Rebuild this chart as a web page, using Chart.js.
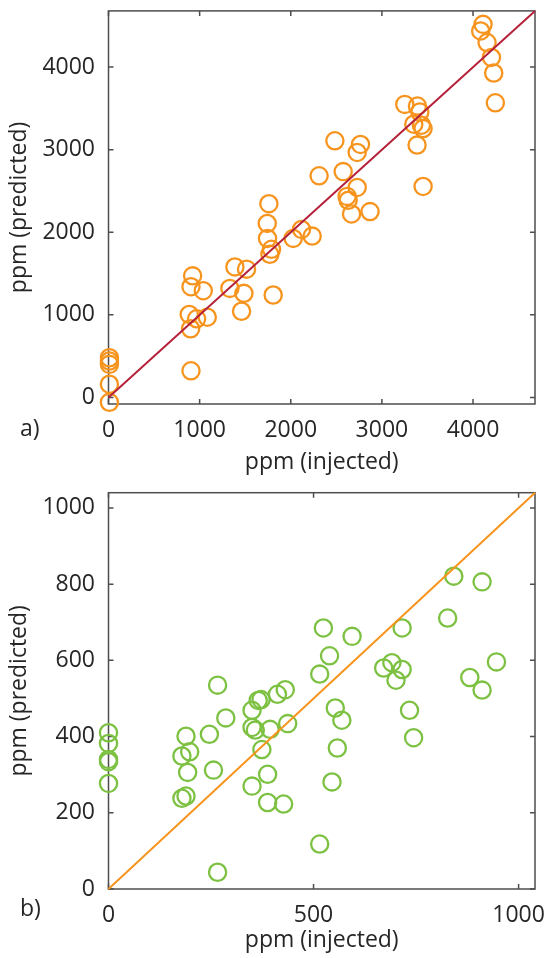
<!DOCTYPE html>
<html lang="en">
<head>
    <meta charset="UTF-8">
    <title>ppm predicted vs injected</title>
    <script src="https://cdn.jsdelivr.net/npm/chart.js"></script>
    <style>
        * { margin: 0; padding: 0; box-sizing: border-box; }
        body { width: 546px; height: 958px; background: #fff; position: relative; overflow: hidden; }
        .panel { position: absolute; left: 0; width: 546px; }
        #wrapA { top: 0; height: 480px; }
        #wrapB { top: 480px; height: 478px; }
        .tag { position: absolute; font-family: 'Open Sans', sans-serif; font-size: 23px; color: #262626; line-height: 1; }
        #tagA { left: 20px; top: 416px; }
        #tagB { left: 20px; top: 896px; }
    </style>
</head>
<body>
<div class="panel" id="wrapA"><canvas id="chartA"></canvas></div>
<div class="panel" id="wrapB"><canvas id="chartB"></canvas></div>
<div class="tag" id="tagA">a)</div>
<div class="tag" id="tagB">b)</div>

<script>
    // panel a) : ppm injected / predicted
    const injectedA = [10, 10, 10, 10, 10, 905, 901, 886, 967, 1084, 905, 923, 1040,
        1332, 1387, 1515, 1486, 1460, 1807, 1771, 1789, 1745, 1742, 1760,
        2027, 2118, 2235, 2311, 2484, 2575, 2618, 2630, 2667, 2729, 2729, 2765, 2870,
        3251, 3390, 3416, 3350, 3434, 3452, 3386, 3452,
        4110, 4084, 4154, 4202, 4227, 4245];
    const predictedA = [480, 440, 400, 160, -60, 322, 831, 1004, 952, 971, 1340, 1472, 1292,
        1320, 1580, 1553, 1260, 1043, 1240, 1733, 1793, 1925, 2106, 2346,
        1925, 2034, 1953, 2683, 3107, 2734, 2434, 2386, 2221, 2542, 2966, 3063, 2250,
        3548, 3528, 3456, 3308, 3296, 3255, 3055, 2554,
        4517, 4437, 4297, 4117, 3928, 3567];
    const ticksA = [0, 1000, 2000, 3000, 4000];

    // panel b)
    const injectedB = [0, 0, 0, 0, 0, 189, 179, 198, 193, 179, 189,
        246, 256, 286, 266, 266, 350, 365, 372, 412, 431,
        350, 358, 394, 437, 374, 388, 350, 388, 427,
        515, 545, 558, 569, 553, 515, 539, 524, 594,
        671, 691, 716, 701, 716, 734, 744,
        827, 842, 911, 881, 911, 946];
    const predictedB = [410, 382, 340, 334, 277, 401, 349, 360, 306, 238, 244,
        406, 312, 449, 535, 44, 469, 495, 497, 511, 523,
        424, 417, 419, 434, 366, 301, 270, 227, 223,
        118, 281, 370, 443, 475, 564, 612, 685, 663,
        580, 594, 576, 548, 685, 469, 397,
        711, 821, 806, 555, 522, 596];
    const ticksBx = [0, 500, 1000];
    const ticksBy = [0, 200, 400, 600, 800, 1000];

    const font = { family: "'Open Sans', sans-serif", size: 23 };
    const textColor = '#262626';
    const axisColor = '#4d4d4d';

    // box round the plot area with ticks pointing inward (both sides)
    const boxTicks = {
        id: 'boxTicks',
        beforeDatasetsDraw(chart) {
            const { ctx, chartArea: a, scales: { x, y } } = chart;
            ctx.save();
            ctx.strokeStyle = axisColor;
            ctx.lineWidth = 1.5;
            ctx.strokeRect(a.left, a.top, a.right - a.left, a.bottom - a.top);
            ctx.beginPath();
            x.ticks.forEach(t => {
                const px = x.getPixelForValue(t.value);
                ctx.moveTo(px, a.bottom); ctx.lineTo(px, a.bottom - 5);
                ctx.moveTo(px, a.top); ctx.lineTo(px, a.top + 5);
            });
            y.ticks.forEach(t => {
                const py = y.getPixelForValue(t.value);
                ctx.moveTo(a.left, py); ctx.lineTo(a.left + 5, py);
                ctx.moveTo(a.right, py); ctx.lineTo(a.right - 5, py);
            });
            ctx.stroke();
            ctx.restore();
        }
    };

    function makeChart(id, xs, ys, xTicks, yTicks, lim, dotColor, lineColor, cfg) {
        const pts = xs.map((v, i) => ({ x: v, y: ys[i] }));
        return new Chart(document.getElementById(id), {
            data: {
                datasets: [
                    {
                        type: 'line',
                        data: [{ x: 0, y: 0 }, { x: lim.xmax, y: lim.ymax }],
                        borderColor: lineColor,
                        borderWidth: 2,
                        pointRadius: 0,
                        clip: false
                    },
                    {
                        type: 'scatter',
                        data: pts,
                        pointStyle: 'circle',
                        pointRadius: 8.6,
                        borderWidth: 2.3,
                        borderColor: dotColor,
                        backgroundColor: 'rgba(0,0,0,0)',
                        clip: false
                    }
                ]
            },
            options: {
                responsive: true,
                maintainAspectRatio: false,
                animation: false,
                events: [],
                layout: { padding: { top: cfg.top, right: 11, left: 0, bottom: 0 } },
                plugins: { legend: { display: false }, tooltip: { enabled: false } },
                scales: {
                    x: {
                        type: 'linear',
                        min: lim.xmin, max: lim.xmax,
                        grid: { display: false, drawTicks: false },
                        border: { display: false },
                        afterBuildTicks: s => { s.ticks = xTicks.map(v => ({ value: v })); },
                        afterFit: s => {
                            s.height = cfg.xh;
                            s.paddingLeft = 0; s.paddingRight = 0;
                        },
                        ticks: { font: font, color: textColor, padding: 13, maxRotation: 0, callback: v => String(v) },
                        title: { display: true, text: 'ppm (injected)', font: font, color: textColor, padding: { top: 0, bottom: 4 } }
                    },
                    y: {
                        type: 'linear',
                        min: lim.ymin, max: lim.ymax,
                        grid: { display: false, drawTicks: false },
                        border: { display: false },
                        afterBuildTicks: s => { s.ticks = yTicks.map(v => ({ value: v })); },
                        afterFit: s => {
                            s.width = 108.5;
                            s.paddingTop = 0; s.paddingBottom = 0;
                        },
                        ticks: { font: font, color: textColor, padding: 13.5, callback: v => String(v) },
                        title: { display: true, text: 'ppm (predicted)', font: font, color: textColor, padding: { top: 6, bottom: 0 } }
                    }
                }
            },
            plugins: [boxTicks]
        });
    }

    makeChart('chartA', injectedA, predictedA, ticksA, ticksA,
        { xmin: 0, xmax: 4680, ymin: -80, ymax: 4680 },
        '#f7941e', '#b5213b', { top: 7.5, xh: 76 });

    makeChart('chartB', injectedB, predictedB, ticksBx, ticksBy,
        { xmin: 0, xmax: 1040, ymin: 0, ymax: 1040 },
        '#7dc142', '#f7941e', { top: 12.7, xh: 69 });
</script>
</body>
</html>
